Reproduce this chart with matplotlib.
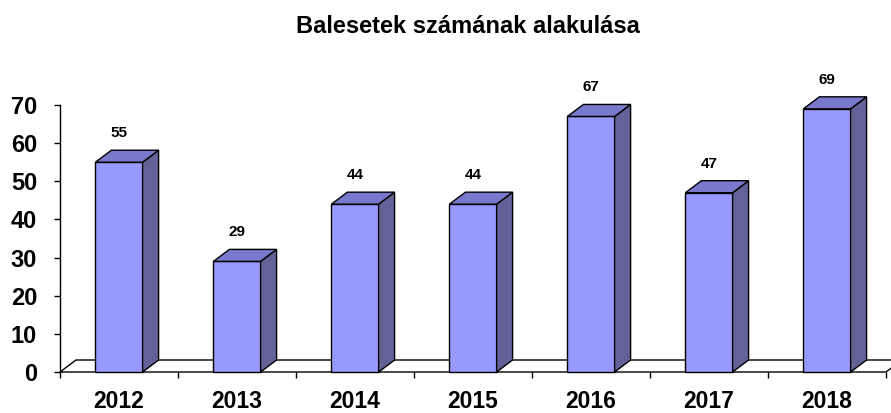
import matplotlib
matplotlib.use("Agg")
import matplotlib.pyplot as plt
from matplotlib.patches import Polygon

years = ["2012", "2013", "2014", "2015", "2016", "2017", "2018"]
values = [55, 29, 44, 44, 67, 47, 69]
title = "Balesetek számának alakulása"

plt.rcParams["font.family"] = ["Liberation Sans", "DejaVu Sans"]
plt.rcParams["font.weight"] = "bold"

W, H = 891, 413
fig = plt.figure(figsize=(W / 100, H / 100), dpi=100)
ax = fig.add_axes([60 / W, 41 / H, 826 / W, 267 / H])
n = len(years)
ax.set_xlim(-0.5, n - 0.5)
ax.set_ylim(0, 70)

# depth offset in pixels -> data units
px_x = (n) / 826.0
px_y = 70.0 / 267.0
dx = 16 * px_x
dy = 12 * px_y

front_c = "#9999FF"
side_c = "#626299"
top_c = "#7878CC"
lw = 1.0

# floor
floor = Polygon([(-0.5, 0), (n - 0.5, 0), (n - 0.5 + dx, dy), (-0.5 + dx, dy)],
                closed=True, facecolor="white", edgecolor="black", lw=lw,
                clip_on=False, zorder=1)
ax.add_patch(floor)

bw = 0.4
for i, v in enumerate(values):
    x0, x1 = i - bw / 2, i + bw / 2
    front = Polygon([(x0, 0), (x1, 0), (x1, v), (x0, v)], closed=True,
                    facecolor=front_c, edgecolor="black", lw=lw, clip_on=False, zorder=3)
    side = Polygon([(x1, 0), (x1 + dx, dy), (x1 + dx, v + dy), (x1, v)], closed=True,
                   facecolor=side_c, edgecolor="black", lw=lw, clip_on=False, zorder=3)
    top = Polygon([(x0, v), (x1, v), (x1 + dx, v + dy), (x0 + dx, v + dy)], closed=True,
                  facecolor=top_c, edgecolor="black", lw=lw, clip_on=False, zorder=3)
    for p in (front, side, top):
        ax.add_patch(p)
    ax.annotate(str(v), (i, v), xytext=(0, 29), textcoords="offset pixels",
                ha="center", va="center", fontsize=11, fontweight="bold",
                annotation_clip=False)

for s in ("top", "right", "bottom"):
    ax.spines[s].set_visible(False)
ax.spines["left"].set_linewidth(lw)

ax.set_yticks(range(0, 71, 10))
ax.set_xticks(range(n))
ax.set_xticklabels(years)
ax.set_xticks([i - 0.5 for i in range(n + 1)], minor=True)
ax.tick_params(axis="x", which="major", length=0, pad=13, labelsize=16.5)
ax.tick_params(axis="x", which="minor", length=4, width=lw, direction="out")
ax.tick_params(axis="y", length=4, width=lw, direction="out", pad=12.5, labelsize=17)
for lab in ax.get_xticklabels() + ax.get_yticklabels():
    lab.set_fontweight("bold")

fig.text(468 / W, 1 - 33 / H, title, ha="center", va="baseline",
         fontsize=17, fontweight="bold")

fig.savefig("out.png", dpi=100)
